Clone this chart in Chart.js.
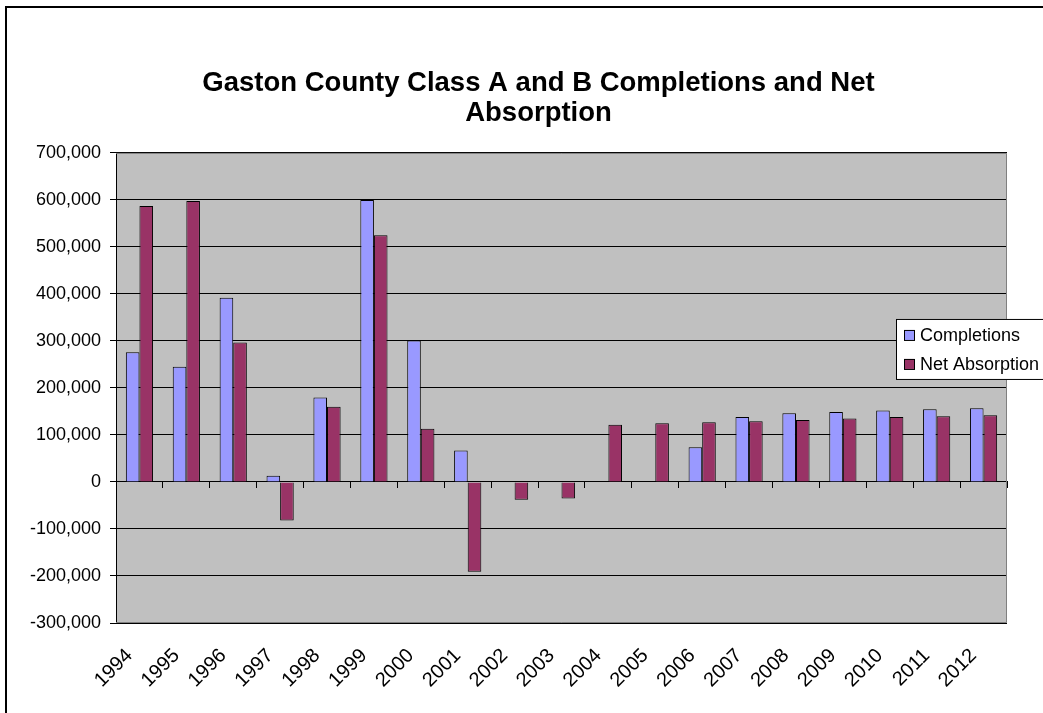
<!DOCTYPE html>
<html>
<head>
<meta charset="utf-8">
<script src="https://cdn.jsdelivr.net/npm/chart.js@4.4.0/dist/chart.umd.min.js"></script>
<style>
  body { margin: 0; background: #fff; }
  #wrap { position: relative; width: 1043px; height: 713px; overflow: hidden; }
  #frame { position: absolute; left: 5px; top: 6px; width: 1100px; height: 800px;
           border-left: 2px solid #000; border-top: 2px solid #000; }
  #chart { position: absolute; left: 0; top: 0; }
</style>
</head>
<body>
<div id="wrap">
  <div id="frame"></div>
  <canvas id="chart" width="1043" height="713"></canvas>
</div>
<script>
const years = ['1994', '1995', '1996', '1997', '1998', '1999', '2000', '2001', '2002', '2003',
               '2004', '2005', '2006', '2007', '2008', '2009', '2010', '2011', '2012'];
const completions = [276000, 245000, 392000, 13500, 180000, 600000, 301000, 67000, 0, 0,
                     0, 0, 74000, 138000, 146000, 149000, 152000, 155000, 157000];
const netAbsorption = [587000, 598000, 297000, -82000, 160000, 525000, 113000, -191000, -38000, -35000,
                       122000, 125000, 127000, 129000, 132000, 135000, 138000, 140000, 142000];
const titleLines = ['Gaston County Class A and B Completions and Net', 'Absorption'];

const FONT = "'Liberation Sans', Arial, sans-serif";

// grey plot background
const plotBackground = {
    id: 'plotBackground',
    afterLayout(chart) {
        // let the y labels spill into the left padding instead of being clipped
        chart.scales.y.left = 0;
    },
    beforeDraw(chart) {
        const {ctx, chartArea: a} = chart;
        ctx.save();
        ctx.fillStyle = '#C0C0C0';
        ctx.fillRect(a.left, a.top, a.right - a.left, a.bottom - a.top);
        ctx.restore();
    },
    beforeDatasetsDraw(chart) {
        const {ctx, chartArea: a} = chart;
        ctx.save();
        ctx.strokeStyle = '#808080';
        ctx.lineWidth = 1;
        ctx.beginPath();
        ctx.moveTo(a.left, a.top + 0.5);
        ctx.lineTo(a.right - 0.5, a.top + 0.5);
        ctx.lineTo(a.right - 0.5, a.bottom - 0.5);
        ctx.lineTo(a.left, a.bottom - 0.5);
        ctx.stroke();
        ctx.restore();
    }
};

// Excel-style legend box sitting over the right edge of the plot
const boxLegend = {
    id: 'boxLegend',
    afterDraw(chart) {
        const {ctx, chartArea: a} = chart;
        const x0 = a.right - 111;
        const y0 = a.top + 166;
        ctx.save();
        ctx.fillStyle = '#fff';
        ctx.strokeStyle = '#000';
        ctx.lineWidth = 1;
        ctx.fillRect(x0, y0, 170, 61);
        ctx.strokeRect(x0 + 0.5, y0 + 0.5, 170, 60);
        ctx.font = '18px ' + FONT;
        ctx.textBaseline = 'middle';
        chart.data.datasets.forEach((ds, i) => {
            const cy = y0 + 16 + i * 29;
            ctx.fillStyle = ds.backgroundColor;
            ctx.fillRect(x0 + 8, cy - 5, 10, 10);
            ctx.strokeRect(x0 + 8.5, cy - 4.5, 10, 10);
            ctx.fillStyle = '#000';
            ctx.fillText(ds.label, x0 + 24, cy + 1);
        });
        ctx.restore();
    }
};

new Chart(document.getElementById('chart'), {
    type: 'bar',
    data: {
        labels: years,
        datasets: [{
            label: 'Completions',
            data: completions,
            backgroundColor: '#9999FF',
            borderColor: '#000',
            borderWidth: 1,
            categoryPercentage: 0.58,
            barPercentage: 1
        }, {
            label: 'Net Absorption',
            data: netAbsorption,
            backgroundColor: '#993366',
            borderColor: '#000',
            borderWidth: 1,
            categoryPercentage: 0.58,
            barPercentage: 1
        }]
    },
    options: {
        responsive: false,
        animation: false,
        // left padding keeps the title centred like the original; y labels spill into it
        layout: { padding: { left: 70, right: 36, top: 0, bottom: 0 } },
        plugins: {
            legend: { display: false },
            tooltip: { enabled: false },
            title: {
                display: true,
                text: titleLines,
                color: '#000',
                font: { family: FONT, size: 27.5, weight: 'bold', lineHeight: 1.09 },
                padding: { top: 68, bottom: 25 }
            }
        },
        scales: {
            x: {
                grid: { display: false },
                border: { display: false },
                ticks: {
                    color: '#000',
                    font: { family: FONT, size: 20 },
                    minRotation: 45,
                    maxRotation: 45,
                    autoSkip: false,
                    padding: 13,
                    labelOffset: -10
                },
                afterFit(scale) { scale.height = 90; }
            },
            x2: {
                type: 'category',
                labels: years,
                position: { y: 0 },
                offset: true,
                grid: { drawOnChartArea: false, drawTicks: true, tickLength: 6, color: '#000', offset: true },
                border: { display: true, color: '#000' },
                ticks: { display: false }
            },
            y: {
                min: -300000,
                max: 700000,
                grid: { color: '#000', tickLength: 6 },
                border: { display: true, color: '#000' },
                ticks: {
                    stepSize: 100000,
                    color: '#000',
                    padding: 9,
                    font: { family: FONT, size: 18 },
                    callback: v => v.toLocaleString('en-US')
                },
                afterFit(scale) { scale.width = 46; }
            }
        }
    },
    plugins: [plotBackground, boxLegend]
});
</script>
</body>
</html>
